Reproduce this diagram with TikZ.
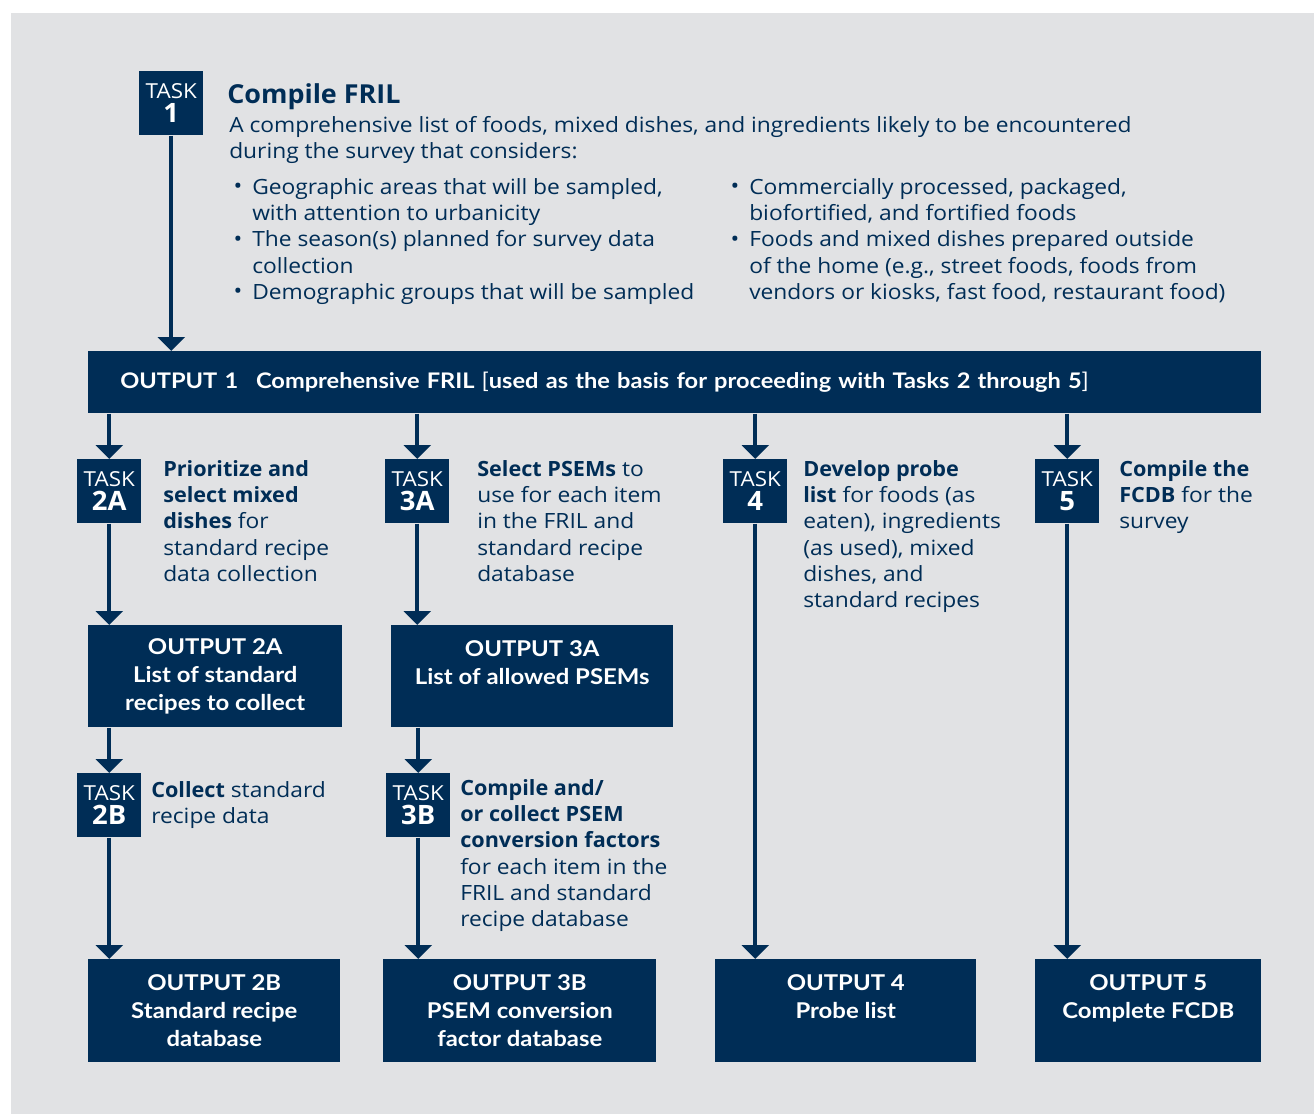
\documentclass[tikz,border=0pt]{standalone}
\usepackage{fontspec}
\setmainfont{Open Sans}[FakeStretch=1.085, BoldFeatures={FakeStretch=1.03}]
\newfontfamily\narrowfont{Lato}[FakeStretch=1.1]
\usetikzlibrary{arrows.meta,positioning}
\definecolor{navy}{RGB}{0,45,86}
\definecolor{bggray}{RGB}{225,226,228}
\tikzset{
  taskbox/.style={fill=navy, text=white, minimum width=48pt, minimum height=48pt, inner sep=0pt, align=center, anchor=north west, font=\fontsize{15.5}{18}\selectfont},
  outbox/.style={fill=navy, text=white, align=center, inner sep=0pt, anchor=north west, font=\narrowfont\bfseries\fontsize{16.3}{21}\selectfont},
  desc/.style={text=navy, align=left, inner sep=0pt, anchor=north west, font=\fontsize{15.75}{19.7}\selectfont},
  arr/.style={navy, line width=3pt, -{Triangle[width=20pt,length=10.5pt]}},
}
\newcommand{\tasknum}[1]{\\{\bfseries\fontsize{20}{20}\selectfont #1}}
\newcommand{\blt}{\llap{\raisebox{0.3pt}{\fontsize{16}{16}\selectfont\textbullet}\hspace{7.5pt}}}

\begin{document}
\begin{tikzpicture}[x=0.75pt, y=-0.75pt]
\useasboundingbox (0,0) rectangle (1314,1114);
\fill[bggray] (11,13) rectangle (1314,1114);

% task 1 and the FRIL
\node[taskbox] (t1) at (139,71) {TASK\tasknum{1}};
\node[desc, font=\bfseries\fontsize{19.6}{24}\selectfont] (fril) at (227,83) {Compile FRIL};
\node[desc] (fril_desc) at (229,116) {A comprehensive list of foods, mixed dishes, and ingredients likely to be encountered\\during the survey that considers:};
\node[desc] (list_l) at (252,178) {\blt Geographic areas that will be sampled,\\with attention to urbanicity\\\blt The season(s) planned for survey data\\collection\\\blt Demographic groups that will be sampled};
\node[desc] (list_r) at (749,178) {\blt Commercially processed, packaged,\\biofortified, and fortified foods\\\blt Foods and mixed dishes prepared outside\\of the home (e.g., street foods, foods from\\vendors or kiosks, fast food, restaurant food)};

\node[outbox, minimum width=879.75pt, minimum height=46.5pt, text width=831.75pt, align=left, font=\narrowfont\bfseries\fontsize{16.1}{21}\selectfont] (o1) at (88,351)
  {OUTPUT 1\hspace{8pt} Comprehensive FRIL {\mdseries[}used as the basis for proceeding with Tasks 2 through 5{\mdseries]}};
\draw[arr] (t1.south) -- (t1.south |- o1.north);

% second row of tasks
\node[taskbox] (t2a) at (77,459) {TASK\tasknum{2A}};
\node[taskbox] (t3a) at (385,459) {TASK\tasknum{3A}};
\node[taskbox] (t4) at (723,459) {TASK\tasknum{4}};
\node[taskbox] (t5) at (1035,459) {TASK\tasknum{5}};

\foreach \t in {t2a,t3a,t4,t5}
  \draw[arr] (o1.south -| \t.north) -- (\t.north);

\node[desc] (t2a_txt) at (163,460) {\textbf{Prioritize and}\\\textbf{select mixed}\\\textbf{dishes} for\\standard recipe\\data collection};
\node[desc] (t3a_txt) at (477,460) {\textbf{Select PSEMs} to\\use for each item\\in the FRIL and\\standard recipe\\database};
\node[desc] (t4_txt) at (803,460) {\textbf{Develop probe}\\\textbf{list} for foods (as\\eaten), ingredients\\(as used), mixed\\dishes, and\\standard recipes};
\node[desc] (t5_txt) at (1119,460) {\textbf{Compile the}\\\textbf{FCDB} for the\\survey};

\node[outbox, minimum width=190.5pt, minimum height=76.5pt] (o2a) at (88,625) {OUTPUT 2A\\List of standard\\recipes to collect};
\node[outbox, minimum width=211.5pt, minimum height=76.5pt] (o3a) at (391,625) {OUTPUT 3A\\List of allowed PSEMs\\\mbox{}};
\draw[arr] (t2a.south) -- (t2a.south |- o2a.north);
\draw[arr] (t3a.south) -- (t3a.south |- o3a.north);

% third row of tasks
\node[taskbox] (t2b) at (77,773) {TASK\tasknum{2B}};
\node[taskbox] (t3b) at (386,773) {TASK\tasknum{3B}};
\draw[arr] (o2a.south -| t2b.north) -- (t2b.north);
\draw[arr] (o3a.south -| t3b.north) -- (t3b.north);

\node[desc] (t2b_txt) at (151,781) {\textbf{Collect} standard\\recipe data};
\node[desc] (t3b_txt) at (460,779) {\textbf{Compile and/}\\\textbf{or collect PSEM}\\\textbf{conversion factors}\\for each item in the\\FRIL and standard\\recipe database};

% outputs
\node[outbox, minimum width=189pt, minimum height=77.25pt] (o2b) at (88,959) {OUTPUT 2B\\Standard recipe\\database};
\node[outbox, minimum width=204.75pt, minimum height=77.25pt] (o3b) at (383,959) {OUTPUT 3B\\PSEM conversion\\factor database};
\node[outbox, minimum width=195.75pt, minimum height=77.25pt] (o4) at (715,959) {OUTPUT 4\\Probe list\\\mbox{}};
\node[outbox, minimum width=169.5pt, minimum height=77.25pt] (o5) at (1035,959) {OUTPUT 5\\Complete FCDB\\\mbox{}};

\draw[arr] (t2b.south) -- (t2b.south |- o2b.north);
\draw[arr] (t3b.south) -- (t3b.south |- o3b.north);
\draw[arr] (t4.south) -- (t4.south |- o4.north);
\draw[arr] (t5.south) -- (t5.south |- o5.north);
\end{tikzpicture}
\end{document}
